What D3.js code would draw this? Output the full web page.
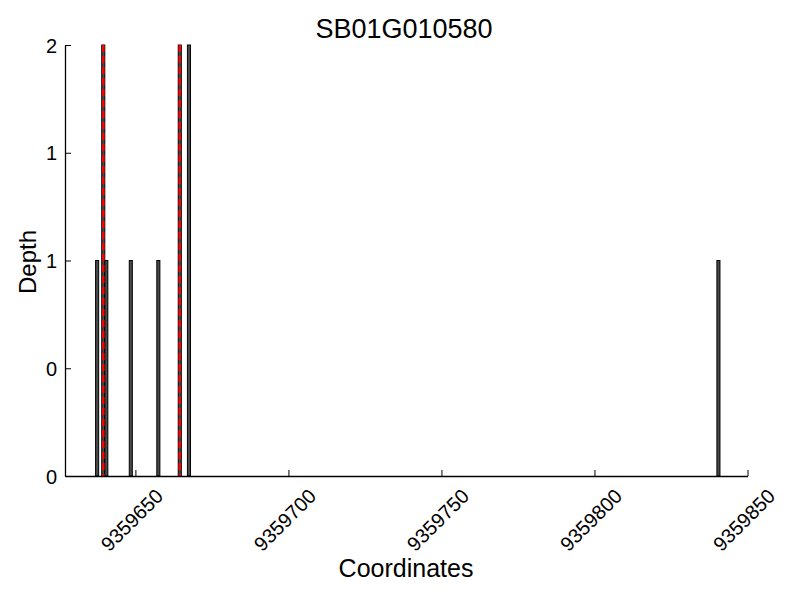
<!DOCTYPE html>
<html>
<head>
<meta charset="utf-8">
<script src="https://cdn.jsdelivr.net/npm/d3@7"></script>
<style>
  html, body { margin: 0; padding: 0; background: #fff; }
  text { font-family: "Liberation Sans", Arial, Helvetica, sans-serif; fill: #000; }
</style>
</head>
<body>
<svg id="chart" width="800" height="600"></svg>
<script>
// ---- data ----
const title = "SB01G010580";
const xLabel = "Coordinates";
const yLabel = "Depth";
const positions = [9359637, 9359639, 9359640, 9359648, 9359657, 9359664, 9359667, 9359840];
const depths    = [1, 2, 1, 1, 1, 2, 2, 1];
const markers   = [9359639.5, 9359664.5];
const xDomain   = [9359627, 9359850];
const xTicks    = [9359650, 9359700, 9359750, 9359800, 9359850];
const yTicks    = [0, 0.5, 1, 1.5, 2];

// ---- layout ----
const svg = d3.select("#chart");
const L = 65, R = 747.5, T = 45, B = 476;

const x = d3.scaleLinear().domain(xDomain).range([L, R]);
const y = d3.scaleLinear().domain([0, 2]).range([B, T]);

// bars
svg.append("g").selectAll("rect")
  .data(positions.map((p, i) => ({p, d: depths[i]})))
  .join("rect")
  .attr("x", d => x(d.p))
  .attr("width", d => x(d.p + 1) - x(d.p))
  .attr("y", d => y(d.d))
  .attr("height", d => y(0) - y(d.d))
  .attr("fill", "#4a4a4a")
  .attr("stroke", "#000")
  .attr("stroke-width", 1);

// marker lines
svg.append("g").selectAll("line")
  .data(markers)
  .join("line")
  .attr("x1", d => x(d)).attr("x2", d => x(d))
  .attr("y1", y(2)).attr("y2", y(0))
  .attr("stroke", "#ff0000")
  .attr("stroke-width", 2.5)
  .attr("stroke-dasharray", "7,4");

// x axis
const xAxis = d3.axisBottom(x).tickValues(xTicks).tickSize(-6).tickSizeOuter(0).tickFormat(d3.format("d"));
const gx = svg.append("g").attr("transform", `translate(0,${B})`).call(xAxis);
gx.attr("font-size", 20);
gx.select(".domain").attr("stroke", "#000").attr("stroke-width", 1.3);
gx.selectAll(".tick line").attr("stroke", "#000");
gx.selectAll(".tick text")
  .attr("font-size", 20)
  .attr("text-anchor", "middle")
  .attr("dominant-baseline", "central")
  .attr("y", 0).attr("dy", null)
  .attr("transform", "translate(-4,44) rotate(-45)");

// y axis
const yAxis = d3.axisLeft(y).tickValues(yTicks).tickSize(-6).tickSizeOuter(0)
  .tickFormat(d => String(Math.floor(d)));
const gy = svg.append("g").attr("transform", `translate(${L},0)`).call(yAxis);
gy.attr("font-size", 20);
gy.select(".domain").attr("stroke", "#000").attr("stroke-width", 1.3);
gy.selectAll(".tick line").attr("stroke", "#000");
gy.selectAll(".tick text").attr("font-size", 20).attr("x", -8).attr("dy", "0.35em");

// titles
svg.append("text").attr("x", 404).attr("y", 38).attr("text-anchor", "middle")
  .attr("font-size", 27).text(title);
svg.append("text").attr("x", 406).attr("y", 577).attr("text-anchor", "middle")
  .attr("font-size", 25).text(xLabel);
svg.append("text").attr("transform", "translate(36,262) rotate(-90)").attr("text-anchor", "middle")
  .attr("font-size", 24).text(yLabel);
</script>
</body>
</html>
